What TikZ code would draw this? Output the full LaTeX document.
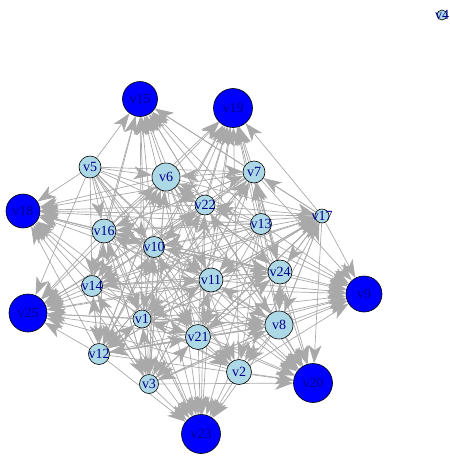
\documentclass[tikz,border=0pt]{standalone}
\usepackage{fontspec}
\setmainfont{Liberation Serif}
\usetikzlibrary{arrows.meta,backgrounds}
\definecolor{lightnode}{HTML}{ADD8E6}
\definecolor{darknode}{HTML}{0000FF}
\definecolor{edgegray}{HTML}{A9A9A9}
\definecolor{labelblue}{HTML}{00008B}
\tikzset{
  vert/.style  = {circle, draw=black, line width=0.6pt, inner sep=0pt},
  light/.style = {vert, fill=lightnode, minimum size=#1},
  dark/.style  = {vert, fill=darknode, minimum size=#1},
  every label/.style = {inner sep=0pt, text=labelblue, font=\fontsize{14}{14}\selectfont},
  link/.style  = {draw=edgegray, line width=0.7pt, -{Stealth[length=18pt,width=13pt,inset=5pt]}}
}
\def\lightlist{v1,v2,v3,v5,v6,v7,v8,v10,v11,v12,v13,v14,v16,v17,v21,v22,v24}
\def\darklist{v9,v15,v18,v19,v20,v23,v25}

\begin{document}
\begin{tikzpicture}[x=1pt, y=-1pt]
    \useasboundingbox (0,0) rectangle (450,459);
    % sinks
    \node[dark=35pt, label=center:v15] (v15) at (140,99) {};
    \node[dark=39pt, label=center:v19] (v19) at (233,108) {};
    \node[dark=34pt, label=center:v18] (v18) at (23,211) {};
    \node[dark=36pt, label=center:v9]  (v9)  at (364,294) {};
    \node[dark=38pt, label=center:v25] (v25) at (28,313) {};
    \node[dark=39pt, label=center:v20] (v20) at (313,383) {};
    \node[dark=39pt, label=center:v23] (v23) at (201,434) {};
    % the rest
    \node[light=10pt, label=center:v4]  (v4)  at (442,15) {};
    \node[light=22pt, label=center:v5]  (v5)  at (90,167) {};
    \node[light=28pt, label=center:v6]  (v6)  at (166,177) {};
    \node[light=22pt, label=center:v7]  (v7)  at (254,172) {};
    \node[light=20pt, label=center:v22] (v22) at (205,205) {};
    \node[light=14pt, label=center:v17] (v17) at (322,216) {};
    \node[light=21pt, label=center:v13] (v13) at (261,224) {};
    \node[light=24pt, label=center:v16] (v16) at (104,231) {};
    \node[light=21pt, label=center:v10] (v10) at (154,247) {};
    \node[light=24pt, label=center:v24] (v24) at (280,272) {};
    \node[light=24pt, label=center:v11] (v11) at (211,280) {};
    \node[light=21pt, label=center:v14] (v14) at (92,286) {};
    \node[light=18pt, label=center:v1]  (v1)  at (142,319) {};
    \node[light=28pt, label=center:v8]  (v8)  at (279,325) {};
    \node[light=25pt, label=center:v21] (v21) at (198,337) {};
    \node[light=21pt, label=center:v12] (v12) at (99,354) {};
    \node[light=25pt, label=center:v2]  (v2)  at (239,372) {};
    \node[light=19pt, label=center:v3]  (v3)  at (149,384) {};

    \begin{pgfonlayer}{background}
    % into the sinks
    \foreach \s [count=\i] in \lightlist {
        \foreach \t [count=\k] in \darklist {
            \pgfmathtruncatemacro\h{mod(\i+3*\k,8)}
            \ifnum\h>0 \draw[link] (\s) -- (\t); \fi
        }
    }
    % among the rest
    \foreach \s [count=\i] in \lightlist {
        \foreach \t [count=\j] in \lightlist {
            \pgfmathtruncatemacro\h{mod(3*\i+5*\j+\i*\j,7)}
            \ifnum\i=\j \else
                \ifnum\h<4 \draw[link] (\s) -- (\t); \fi
            \fi
        }
    }
    \end{pgfonlayer}
\end{tikzpicture}
\end{document}
